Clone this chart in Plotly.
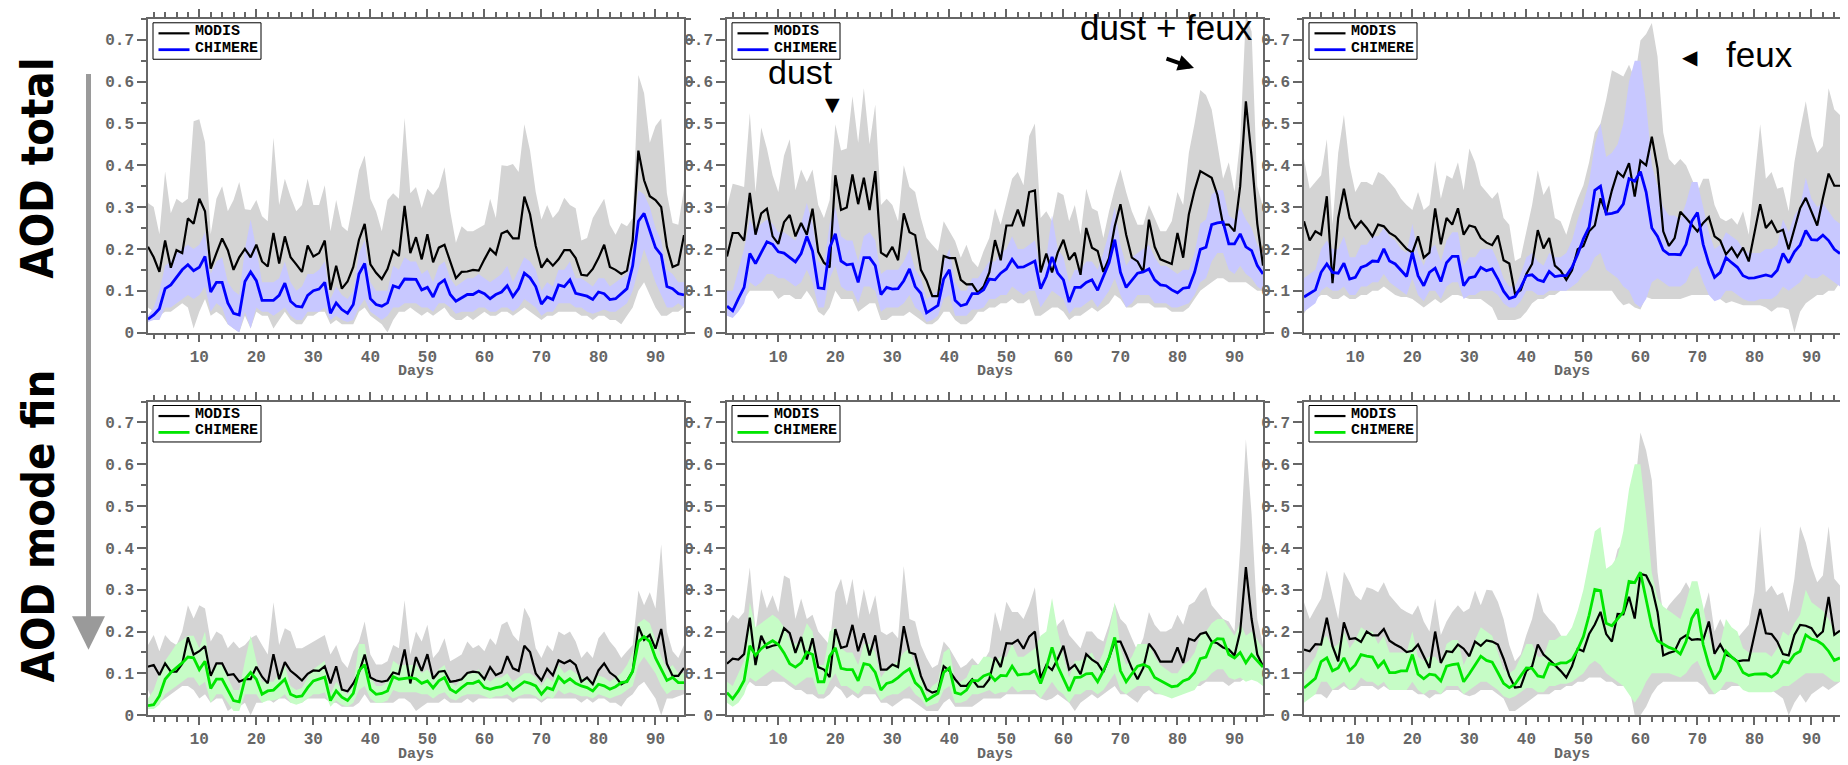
import plotly.graph_objects as go
from plotly.subplots import make_subplots

W, H = 1848, 765

days = list(range(1, 96))
x_tickvals = [10, 20, 30, 40, 50, 60, 70, 80, 90]
x_ticktext = ['10', '20', '30', '40', '50', '60', '70', '80', '90']
y_tickvals = [0, 0.1, 0.2, 0.3, 0.4, 0.5, 0.6, 0.7]
y_ticktext = ['0', '0.1', '0.2', '0.3', '0.4', '0.5', '0.6', '0.7']
legend_names = ['MODIS', 'CHIMERE']

# ---- top left : AOD total ----
p1_modis = [0.205,0.18,0.145,0.22,0.155,0.197,0.19,0.273,0.26,0.32,
            0.29,0.153,0.19,0.225,0.197,0.15,0.18,0.2,0.18,0.21,
            0.17,0.158,0.238,0.165,0.23,0.18,0.163,0.145,0.208,0.182,
            0.19,0.22,0.102,0.16,0.105,0.122,0.157,0.222,0.26,0.163,
            0.143,0.128,0.152,0.195,0.183,0.303,0.19,0.228,0.175,0.235,
            0.168,0.203,0.21,0.172,0.13,0.145,0.146,0.15,0.148,0.175,
            0.2,0.187,0.237,0.243,0.225,0.225,0.325,0.283,0.207,0.155,
            0.175,0.16,0.175,0.197,0.197,0.178,0.138,0.136,0.152,0.178,
            0.21,0.157,0.15,0.14,0.148,0.22,0.435,0.364,0.326,0.317,
            0.3,0.205,0.157,0.163,0.233]
p1_modis_hi = [0.31,0.30,0.235,0.385,0.285,0.32,0.31,0.32,0.505,0.51,
               0.455,0.235,0.32,0.35,0.29,0.317,0.36,0.295,0.293,0.317,
               0.278,0.266,0.466,0.305,0.368,0.325,0.29,0.305,0.368,0.305,
               0.305,0.352,0.242,0.317,0.254,0.242,0.313,0.388,0.423,0.32,
               0.29,0.242,0.317,0.333,0.32,0.513,0.333,0.348,0.298,0.344,
               0.329,0.348,0.395,0.29,0.215,0.254,0.242,0.242,0.25,0.258,
               0.32,0.274,0.40,0.398,0.403,0.384,0.498,0.435,0.336,0.27,
               0.305,0.274,0.29,0.322,0.305,0.297,0.22,0.226,0.274,0.297,
               0.32,0.258,0.234,0.262,0.254,0.274,0.616,0.572,0.454,0.494,
               0.512,0.333,0.262,0.258,0.344]
p1_modis_lo = [0.06,0.05,0.04,0.05,0.05,0.06,0.07,0.06,0.01,0.05,
               0.08,0.04,0.05,0.04,0.02,0.01,0.0,0.04,0.01,0.05,
               0.04,0.04,0.01,0.03,0.05,0.03,0.02,0.02,0.04,0.04,
               0.05,0.05,0.02,0.03,0.02,0.02,0.02,0.05,0.06,0.04,
               0.03,0.02,0.0,0.03,0.05,0.05,0.06,0.05,0.04,0.05,
               0.04,0.05,0.06,0.04,0.03,0.03,0.04,0.03,0.04,0.05,
               0.04,0.04,0.05,0.05,0.04,0.05,0.06,0.05,0.04,0.03,
               0.04,0.04,0.05,0.05,0.05,0.05,0.04,0.04,0.03,0.04,
               0.04,0.03,0.03,0.02,0.04,0.06,0.1,0.12,0.09,0.06,
               0.04,0.04,0.05,0.05,0.06]
p1_chim = [0.032,0.042,0.057,0.105,0.114,0.132,0.15,0.162,0.148,0.156,
           0.182,0.097,0.12,0.12,0.071,0.046,0.042,0.122,0.145,0.124,
           0.077,0.077,0.077,0.089,0.118,0.075,0.063,0.061,0.089,0.10,
           0.104,0.12,0.046,0.071,0.055,0.046,0.067,0.14,0.165,0.081,
           0.067,0.063,0.071,0.112,0.107,0.128,0.128,0.127,0.102,0.108,
           0.085,0.116,0.126,0.091,0.075,0.083,0.091,0.091,0.099,0.093,
           0.081,0.091,0.097,0.112,0.086,0.105,0.142,0.131,0.11,0.068,
           0.085,0.079,0.114,0.11,0.126,0.094,0.091,0.087,0.079,0.097,
           0.093,0.079,0.081,0.094,0.105,0.16,0.266,0.285,0.242,0.203,
           0.186,0.11,0.105,0.093,0.09]
p1_chim_hi = [0.04,0.06,0.1,0.16,0.17,0.19,0.2,0.21,0.2,0.21,
              0.24,0.14,0.17,0.18,0.12,0.1,0.09,0.2,0.27,0.2,
              0.12,0.12,0.12,0.13,0.17,0.12,0.1,0.11,0.14,0.14,
              0.15,0.17,0.08,0.11,0.09,0.08,0.1,0.19,0.22,0.12,
              0.1,0.1,0.1,0.16,0.15,0.18,0.17,0.17,0.14,0.15,
              0.12,0.16,0.17,0.13,0.11,0.12,0.13,0.13,0.14,0.13,
              0.12,0.13,0.14,0.16,0.12,0.15,0.18,0.17,0.15,0.1,
              0.12,0.11,0.15,0.15,0.17,0.13,0.13,0.12,0.11,0.13,
              0.13,0.11,0.12,0.13,0.14,0.22,0.34,0.33,0.3,0.25,
              0.22,0.15,0.14,0.12,0.12]
p1_chim_lo = [0.025,0.03,0.03,0.06,0.06,0.07,0.08,0.09,0.08,0.09,
              0.11,0.05,0.07,0.06,0.02,0.01,0.0,0.05,0.01,0.06,
              0.05,0.05,0.04,0.05,0.06,0.04,0.03,0.03,0.05,0.05,
              0.05,0.06,0.03,0.04,0.03,0.025,0.03,0.06,0.08,0.05,
              0.04,0.03,0.04,0.06,0.06,0.07,0.07,0.07,0.06,0.06,
              0.05,0.07,0.07,0.06,0.045,0.05,0.05,0.05,0.06,0.06,
              0.05,0.05,0.06,0.06,0.05,0.06,0.08,0.07,0.06,0.04,
              0.05,0.05,0.07,0.07,0.07,0.06,0.06,0.05,0.045,0.05,
              0.055,0.05,0.05,0.06,0.07,0.1,0.15,0.2,0.16,0.12,
              0.09,0.06,0.06,0.07,0.06]

# ---- top middle : AOD total ----
p2_modis = [0.182,0.238,0.238,0.22,0.334,0.234,0.285,0.296,0.23,0.212,
            0.264,0.281,0.23,0.262,0.234,0.296,0.193,0.167,0.156,0.376,
            0.293,0.299,0.378,0.307,0.37,0.293,0.386,0.191,0.182,0.205,
            0.173,0.285,0.24,0.233,0.15,0.124,0.087,0.087,0.183,0.178,
            0.178,0.126,0.115,0.116,0.095,0.11,0.144,0.221,0.173,0.256,
            0.256,0.294,0.254,0.336,0.34,0.144,0.189,0.144,0.191,0.222,
            0.174,0.191,0.138,0.25,0.203,0.195,0.145,0.178,0.254,0.307,
            0.234,0.179,0.17,0.145,0.27,0.205,0.175,0.169,0.164,0.238,
            0.179,0.283,0.34,0.386,0.378,0.37,0.329,0.258,0.258,0.242,
            0.35,0.553,0.42,0.26,0.16]
p2_modis_hi = [0.30,0.356,0.352,0.348,0.525,0.336,0.49,0.44,0.376,0.336,
               0.423,0.462,0.34,0.39,0.36,0.39,0.305,0.274,0.317,0.498,
               0.435,0.44,0.565,0.454,0.584,0.45,0.545,0.305,0.32,0.305,
               0.266,0.40,0.348,0.336,0.274,0.226,0.21,0.195,0.266,0.242,
               0.219,0.179,0.21,0.171,0.156,0.195,0.226,0.297,0.258,0.313,
               0.368,0.384,0.352,0.47,0.50,0.274,0.29,0.266,0.336,0.329,
               0.266,0.305,0.234,0.344,0.297,0.29,0.226,0.29,0.344,0.39,
               0.336,0.29,0.258,0.258,0.305,0.274,0.242,0.242,0.266,0.336,
               0.305,0.43,0.50,0.58,0.568,0.533,0.446,0.368,0.407,0.336,
               0.46,0.76,0.72,0.35,0.3]
p2_modis_lo = [0.1,0.08,0.07,0.08,0.1,0.1,0.1,0.1,0.1,0.08,
               0.09,0.09,0.08,0.08,0.1,0.08,0.05,0.04,0.06,0.1,
               0.08,0.08,0.08,0.05,0.06,0.07,0.07,0.03,0.03,0.04,
               0.04,0.04,0.05,0.04,0.03,0.02,0.02,0.03,0.05,0.05,
               0.03,0.02,0.02,0.03,0.05,0.05,0.06,0.06,0.07,0.07,
               0.08,0.07,0.07,0.08,0.04,0.04,0.05,0.06,0.06,0.05,
               0.03,0.04,0.04,0.05,0.06,0.05,0.06,0.07,0.09,0.08,
               0.06,0.06,0.07,0.07,0.07,0.06,0.06,0.06,0.05,0.05,
               0.05,0.06,0.08,0.1,0.11,0.12,0.13,0.13,0.12,0.12,
               0.12,0.12,0.11,0.1,0.1]
p2_chim = [0.063,0.052,0.081,0.108,0.189,0.165,0.191,0.217,0.211,0.193,
           0.19,0.179,0.169,0.189,0.23,0.195,0.107,0.105,0.203,0.236,
           0.171,0.162,0.164,0.12,0.179,0.179,0.16,0.091,0.108,0.104,
           0.105,0.124,0.152,0.11,0.094,0.047,0.055,0.065,0.128,0.15,
           0.077,0.064,0.068,0.093,0.093,0.102,0.128,0.126,0.142,0.152,
           0.175,0.156,0.157,0.164,0.171,0.105,0.134,0.181,0.142,0.126,
           0.073,0.108,0.108,0.12,0.126,0.101,0.132,0.167,0.222,0.144,
           0.108,0.124,0.142,0.145,0.152,0.126,0.114,0.112,0.102,0.095,
           0.106,0.108,0.144,0.199,0.204,0.258,0.262,0.264,0.212,0.212,
           0.236,0.205,0.196,0.16,0.14]
p2_chim_hi = [0.10,0.1,0.15,0.2,0.27,0.24,0.26,0.27,0.26,0.24,
              0.24,0.23,0.22,0.26,0.31,0.26,0.17,0.16,0.26,0.3,
              0.23,0.22,0.22,0.17,0.23,0.24,0.22,0.14,0.15,0.15,
              0.15,0.17,0.2,0.15,0.13,0.08,0.09,0.1,0.17,0.2,
              0.12,0.1,0.1,0.13,0.13,0.15,0.17,0.17,0.19,0.2,
              0.23,0.2,0.2,0.21,0.22,0.15,0.18,0.28,0.2,0.18,
              0.12,0.15,0.15,0.17,0.17,0.15,0.19,0.24,0.3,0.21,
              0.16,0.18,0.19,0.2,0.21,0.18,0.16,0.16,0.15,0.14,
              0.15,0.15,0.19,0.26,0.27,0.33,0.34,0.34,0.28,0.27,
              0.3,0.27,0.25,0.21,0.19]
p2_chim_lo = [0.04,0.035,0.05,0.07,0.12,0.11,0.12,0.14,0.14,0.13,
              0.13,0.12,0.11,0.12,0.15,0.12,0.06,0.06,0.13,0.16,
              0.11,0.1,0.1,0.07,0.11,0.11,0.1,0.05,0.06,0.06,
              0.06,0.07,0.09,0.06,0.05,0.025,0.03,0.04,0.08,0.09,
              0.04,0.04,0.04,0.055,0.055,0.06,0.08,0.08,0.09,0.09,
              0.11,0.1,0.09,0.1,0.1,0.06,0.08,0.1,0.09,0.08,
              0.045,0.06,0.06,0.07,0.08,0.06,0.08,0.1,0.13,0.09,
              0.06,0.07,0.09,0.09,0.09,0.07,0.07,0.07,0.06,0.06,
              0.065,0.07,0.09,0.12,0.13,0.17,0.19,0.19,0.15,0.14,
              0.16,0.14,0.13,0.11,0.1]

# ---- top right : AOD total ----
p3_modis = [0.266,0.22,0.242,0.234,0.326,0.118,0.274,0.344,0.274,0.25,
            0.266,0.25,0.23,0.258,0.254,0.238,0.23,0.215,0.2,0.191,
            0.23,0.179,0.191,0.297,0.211,0.274,0.258,0.297,0.234,0.256,
            0.252,0.226,0.215,0.209,0.232,0.173,0.165,0.093,0.101,0.14,
            0.164,0.245,0.201,0.226,0.16,0.148,0.126,0.149,0.199,0.207,
            0.242,0.256,0.321,0.285,0.34,0.384,0.372,0.405,0.325,0.411,
            0.4,0.468,0.392,0.242,0.207,0.226,0.289,0.274,0.258,0.242,
            0.262,0.276,0.23,0.22,0.187,0.203,0.181,0.203,0.17,0.242,
            0.307,0.25,0.266,0.24,0.246,0.199,0.25,0.297,0.322,0.289,
            0.256,0.321,0.38,0.351,0.351]
p3_modis_hi = [0.415,0.344,0.36,0.376,0.462,0.258,0.43,0.52,0.40,0.336,
               0.36,0.36,0.352,0.384,0.376,0.36,0.344,0.32,0.305,0.293,
               0.336,0.293,0.305,0.41,0.32,0.376,0.368,0.407,0.34,0.44,
               0.407,0.352,0.336,0.32,0.336,0.274,0.258,0.171,0.179,0.242,
               0.305,0.388,0.329,0.352,0.274,0.266,0.234,0.281,0.32,0.352,
               0.407,0.478,0.5,0.557,0.627,0.62,0.612,0.64,0.607,0.698,
               0.714,0.74,0.66,0.478,0.415,0.40,0.415,0.4,0.368,0.336,
               0.368,0.368,0.305,0.274,0.266,0.274,0.258,0.29,0.234,0.368,
               0.498,0.368,0.384,0.344,0.348,0.29,0.407,0.485,0.553,0.47,
               0.43,0.446,0.584,0.533,0.52]
p3_modis_lo = [0.045,0.07,0.08,0.09,0.09,0.08,0.08,0.09,0.08,0.08,
               0.09,0.09,0.1,0.1,0.11,0.1,0.09,0.085,0.085,0.08,
               0.07,0.06,0.07,0.08,0.07,0.08,0.09,0.09,0.085,0.08,
               0.08,0.08,0.07,0.06,0.03,0.03,0.03,0.03,0.035,0.05,
               0.07,0.08,0.08,0.09,0.09,0.1,0.1,0.1,0.1,0.1,
               0.1,0.1,0.1,0.1,0.1,0.08,0.065,0.07,0.06,0.055,
               0.085,0.08,0.08,0.08,0.08,0.08,0.08,0.085,0.09,0.09,
               0.09,0.09,0.09,0.08,0.07,0.075,0.07,0.065,0.065,0.065,
               0.065,0.06,0.05,0.06,0.06,0.055,0.0,0.05,0.07,0.08,
               0.09,0.09,0.1,0.1,0.12]
p3_chim = [0.085,0.094,0.102,0.144,0.164,0.144,0.142,0.166,0.128,0.132,
           0.156,0.161,0.171,0.17,0.2,0.171,0.164,0.149,0.134,0.191,
           0.136,0.112,0.144,0.154,0.122,0.167,0.182,0.182,0.112,0.131,
           0.134,0.156,0.148,0.152,0.128,0.099,0.081,0.086,0.108,0.136,
           0.138,0.126,0.122,0.146,0.134,0.136,0.136,0.156,0.187,0.224,
           0.252,0.34,0.35,0.283,0.285,0.289,0.307,0.368,0.362,0.385,
           0.336,0.25,0.23,0.197,0.187,0.187,0.186,0.211,0.266,0.287,
           0.211,0.165,0.132,0.144,0.179,0.167,0.156,0.136,0.13,0.131,
           0.134,0.138,0.134,0.149,0.189,0.167,0.193,0.209,0.244,0.222,
           0.221,0.233,0.22,0.199,0.189]
p3_chim_hi = [0.13,0.14,0.15,0.2,0.22,0.2,0.2,0.23,0.18,0.18,
              0.21,0.21,0.23,0.23,0.25,0.23,0.22,0.2,0.19,0.26,
              0.19,0.16,0.2,0.21,0.17,0.22,0.24,0.24,0.16,0.18,
              0.18,0.2,0.2,0.2,0.17,0.13,0.11,0.11,0.14,0.18,
              0.19,0.17,0.16,0.19,0.18,0.18,0.19,0.22,0.27,0.31,
              0.36,0.45,0.5,0.42,0.43,0.45,0.5,0.6,0.65,0.65,
              0.55,0.4,0.35,0.3,0.28,0.28,0.27,0.31,0.36,0.36,
              0.3,0.24,0.2,0.21,0.24,0.23,0.22,0.2,0.19,0.19,
              0.19,0.2,0.2,0.21,0.27,0.24,0.28,0.3,0.37,0.32,
              0.3,0.31,0.29,0.27,0.26]
p3_chim_lo = [0.05,0.06,0.07,0.1,0.11,0.1,0.1,0.11,0.09,0.09,
              0.11,0.11,0.12,0.12,0.14,0.12,0.11,0.1,0.09,0.13,
              0.09,0.075,0.1,0.1,0.08,0.11,0.12,0.12,0.08,0.09,
              0.09,0.1,0.1,0.1,0.09,0.07,0.06,0.06,0.075,0.1,
              0.1,0.09,0.09,0.1,0.1,0.1,0.1,0.11,0.12,0.14,
              0.15,0.18,0.19,0.15,0.14,0.13,0.11,0.1,0.07,0.06,
              0.08,0.12,0.13,0.12,0.11,0.11,0.11,0.12,0.15,0.16,
              0.12,0.09,0.075,0.08,0.1,0.1,0.09,0.08,0.075,0.075,
              0.08,0.08,0.08,0.09,0.11,0.1,0.11,0.12,0.14,0.13,
              0.13,0.14,0.13,0.12,0.11]

# ---- bottom left : AOD fine mode ----
p4_modis = [0.116,0.12,0.096,0.124,0.104,0.104,0.123,0.186,0.145,0.153,
            0.165,0.094,0.124,0.124,0.096,0.098,0.08,0.086,0.086,0.116,
            0.092,0.076,0.146,0.086,0.127,0.106,0.095,0.083,0.099,0.107,
            0.106,0.117,0.076,0.117,0.061,0.057,0.076,0.102,0.145,0.09,
            0.083,0.08,0.083,0.102,0.098,0.157,0.076,0.139,0.106,0.146,
            0.087,0.104,0.106,0.08,0.082,0.086,0.101,0.104,0.102,0.086,
            0.115,0.096,0.102,0.141,0.112,0.106,0.166,0.151,0.1,0.083,
            0.111,0.095,0.131,0.124,0.131,0.12,0.08,0.09,0.074,0.107,
            0.124,0.102,0.092,0.074,0.082,0.105,0.212,0.18,0.192,0.159,
            0.206,0.123,0.094,0.094,0.113]
p4_modis_hi = [0.168,0.192,0.153,0.192,0.176,0.168,0.2,0.263,0.231,0.263,
               0.255,0.176,0.2,0.192,0.16,0.176,0.16,0.168,0.184,0.192,
               0.168,0.145,0.27,0.168,0.208,0.2,0.16,0.16,0.168,0.176,
               0.184,0.192,0.145,0.168,0.129,0.113,0.153,0.176,0.224,0.145,
               0.121,0.121,0.129,0.168,0.16,0.275,0.145,0.2,0.176,0.216,
               0.137,0.153,0.184,0.129,0.137,0.145,0.176,0.16,0.168,0.153,
               0.184,0.168,0.216,0.224,0.192,0.176,0.257,0.231,0.16,0.137,
               0.168,0.153,0.2,0.192,0.2,0.176,0.137,0.153,0.137,0.184,
               0.2,0.176,0.16,0.137,0.153,0.168,0.298,0.263,0.294,0.255,
               0.409,0.2,0.153,0.137,0.168]
p4_modis_lo = [0.06,0.03,0.03,0.04,0.05,0.06,0.07,0.07,0.06,0.04,
               0.05,0.03,0.04,0.04,0.01,0.02,0.02,0.03,0.0,0.03,
               0.03,0.04,0.03,0.04,0.04,0.03,0.03,0.03,0.04,0.04,
               0.04,0.04,0.03,0.03,0.02,0.02,0.02,0.03,0.05,0.03,
               0.03,0.03,0.03,0.03,0.04,0.04,0.03,0.01,0.02,0.03,
               0.03,0.03,0.04,0.03,0.03,0.03,0.04,0.03,0.04,0.04,
               0.04,0.04,0.04,0.04,0.03,0.04,0.04,0.04,0.04,0.03,
               0.04,0.04,0.04,0.04,0.04,0.04,0.03,0.04,0.03,0.04,
               0.04,0.03,0.03,0.02,0.04,0.05,0.07,0.08,0.06,0.04,
               0.0,0.04,0.04,0.045,0.05]
p4_chim = [0.023,0.025,0.046,0.086,0.102,0.113,0.125,0.139,0.137,0.109,
           0.129,0.064,0.086,0.086,0.06,0.035,0.032,0.086,0.102,0.086,
           0.05,0.058,0.06,0.072,0.086,0.05,0.044,0.046,0.066,0.082,
           0.086,0.091,0.035,0.058,0.043,0.035,0.052,0.106,0.121,0.062,
           0.05,0.052,0.058,0.092,0.086,0.088,0.09,0.087,0.076,0.082,
           0.065,0.082,0.09,0.062,0.054,0.066,0.076,0.076,0.082,0.066,
           0.062,0.066,0.068,0.076,0.06,0.07,0.08,0.076,0.07,0.05,
           0.066,0.061,0.092,0.078,0.087,0.076,0.07,0.066,0.058,0.074,
           0.07,0.062,0.068,0.078,0.08,0.105,0.176,0.188,0.176,0.137,
           0.109,0.083,0.09,0.078,0.078]
p4_chim_hi = [0.04,0.06,0.1,0.13,0.15,0.17,0.18,0.19,0.19,0.16,
              0.2,0.1,0.12,0.12,0.09,0.06,0.06,0.13,0.19,0.13,
              0.08,0.08,0.08,0.1,0.12,0.07,0.06,0.065,0.09,0.11,
              0.12,0.13,0.05,0.08,0.06,0.05,0.07,0.17,0.17,0.09,
              0.07,0.07,0.08,0.13,0.12,0.12,0.12,0.12,0.1,0.11,
              0.09,0.11,0.12,0.08,0.07,0.09,0.1,0.1,0.11,0.09,
              0.08,0.09,0.09,0.1,0.08,0.09,0.1,0.1,0.09,0.07,
              0.09,0.08,0.12,0.1,0.11,0.1,0.09,0.085,0.08,0.095,
              0.09,0.08,0.09,0.1,0.12,0.15,0.22,0.23,0.22,0.18,
              0.14,0.11,0.12,0.1,0.1]
p4_chim_lo = [0.015,0.015,0.025,0.05,0.06,0.07,0.08,0.09,0.09,0.07,
              0.08,0.03,0.05,0.05,0.03,0.01,0.01,0.05,0.05,0.05,
              0.03,0.035,0.035,0.04,0.05,0.03,0.025,0.03,0.04,0.05,
              0.05,0.055,0.02,0.035,0.025,0.02,0.03,0.06,0.07,0.04,
              0.03,0.03,0.035,0.06,0.055,0.055,0.055,0.055,0.05,0.05,
              0.04,0.05,0.055,0.04,0.035,0.045,0.05,0.05,0.05,0.045,
              0.04,0.045,0.045,0.05,0.04,0.045,0.05,0.05,0.045,0.035,
              0.045,0.04,0.06,0.05,0.055,0.05,0.045,0.045,0.04,0.05,
              0.045,0.04,0.045,0.05,0.06,0.07,0.12,0.14,0.12,0.1,
              0.07,0.05,0.06,0.06,0.06]

# ---- bottom middle : AOD fine mode ----
p5_modis = [0.123,0.135,0.133,0.146,0.233,0.12,0.19,0.161,0.166,0.169,
            0.208,0.196,0.149,0.187,0.133,0.184,0.115,0.109,0.091,0.206,
            0.161,0.165,0.216,0.153,0.196,0.143,0.191,0.109,0.109,0.121,
            0.115,0.213,0.15,0.146,0.094,0.062,0.054,0.058,0.117,0.106,
            0.086,0.07,0.07,0.086,0.068,0.068,0.086,0.139,0.115,0.172,
            0.171,0.18,0.159,0.188,0.2,0.088,0.12,0.108,0.135,0.166,
            0.109,0.12,0.098,0.146,0.133,0.124,0.103,0.137,0.176,0.176,
            0.145,0.112,0.086,0.113,0.171,0.153,0.128,0.128,0.128,0.162,
            0.125,0.183,0.178,0.194,0.198,0.176,0.172,0.162,0.157,0.143,
            0.2,0.354,0.23,0.145,0.117]
p5_modis_hi = [0.22,0.24,0.23,0.247,0.354,0.2,0.302,0.255,0.287,0.247,
               0.334,0.326,0.23,0.279,0.23,0.24,0.2,0.184,0.168,0.294,
               0.326,0.263,0.326,0.23,0.302,0.24,0.287,0.2,0.192,0.2,
               0.184,0.357,0.23,0.224,0.168,0.137,0.113,0.121,0.176,0.16,
               0.137,0.113,0.121,0.137,0.121,0.129,0.153,0.247,0.2,0.271,
               0.247,0.247,0.23,0.263,0.306,0.168,0.2,0.184,0.216,0.23,
               0.192,0.176,0.16,0.2,0.2,0.184,0.176,0.216,0.267,0.23,
               0.216,0.184,0.153,0.184,0.247,0.216,0.2,0.2,0.208,0.24,
               0.216,0.263,0.271,0.294,0.306,0.263,0.247,0.23,0.224,0.2,
               0.4,0.66,0.48,0.23,0.168]
p5_modis_lo = [0.06,0.04,0.05,0.06,0.08,0.07,0.07,0.07,0.08,0.08,
               0.08,0.07,0.06,0.06,0.05,0.05,0.04,0.04,0.05,0.07,
               0.06,0.04,0.05,0.04,0.05,0.05,0.05,0.03,0.03,0.02,
               0.03,0.04,0.04,0.03,0.02,0.01,0.01,0.01,0.03,0.04,
               0.02,0.02,0.02,0.02,0.03,0.04,0.04,0.04,0.04,0.05,
               0.05,0.05,0.05,0.05,0.05,0.04,0.035,0.04,0.05,0.04,
               0.03,0.01,0.03,0.04,0.05,0.04,0.05,0.06,0.07,0.05,
               0.05,0.04,0.03,0.05,0.06,0.05,0.05,0.05,0.05,0.06,
               0.06,0.06,0.07,0.07,0.08,0.08,0.08,0.08,0.07,0.08,
               0.08,0.09,0.09,0.09,0.1]
p5_chim = [0.054,0.039,0.058,0.083,0.166,0.143,0.159,0.17,0.178,0.169,
           0.149,0.123,0.115,0.125,0.151,0.145,0.08,0.08,0.141,0.161,
           0.112,0.109,0.109,0.082,0.123,0.12,0.102,0.06,0.076,0.08,
           0.09,0.102,0.111,0.078,0.065,0.035,0.044,0.052,0.102,0.113,
           0.054,0.05,0.06,0.083,0.082,0.094,0.099,0.083,0.095,0.094,
           0.117,0.096,0.098,0.099,0.107,0.076,0.113,0.162,0.117,0.086,
           0.058,0.09,0.091,0.099,0.1,0.08,0.106,0.137,0.186,0.106,
           0.08,0.099,0.117,0.121,0.115,0.09,0.083,0.074,0.068,0.07,
           0.082,0.087,0.102,0.135,0.139,0.172,0.183,0.182,0.145,0.137,
           0.15,0.125,0.145,0.13,0.115]
p5_chim_hi = [0.08,0.07,0.1,0.13,0.27,0.21,0.22,0.23,0.24,0.23,
              0.21,0.18,0.17,0.18,0.22,0.2,0.12,0.12,0.2,0.21,
              0.16,0.15,0.15,0.12,0.17,0.17,0.15,0.09,0.11,0.12,
              0.13,0.15,0.16,0.12,0.1,0.05,0.07,0.08,0.15,0.16,
              0.08,0.08,0.09,0.12,0.12,0.14,0.14,0.13,0.14,0.14,
              0.17,0.14,0.14,0.15,0.16,0.19,0.2,0.28,0.2,0.14,
              0.09,0.13,0.13,0.14,0.15,0.12,0.15,0.2,0.27,0.16,
              0.12,0.14,0.17,0.17,0.17,0.14,0.12,0.11,0.1,0.1,
              0.12,0.13,0.15,0.19,0.2,0.22,0.23,0.23,0.21,0.19,
              0.22,0.19,0.2,0.18,0.16]
p5_chim_lo = [0.03,0.02,0.03,0.05,0.09,0.08,0.09,0.1,0.11,0.1,
              0.09,0.08,0.07,0.08,0.09,0.09,0.05,0.05,0.08,0.1,
              0.07,0.07,0.06,0.05,0.07,0.07,0.06,0.035,0.045,0.05,
              0.05,0.06,0.07,0.05,0.04,0.02,0.025,0.03,0.06,0.07,
              0.03,0.03,0.035,0.05,0.05,0.055,0.06,0.05,0.055,0.055,
              0.07,0.055,0.06,0.06,0.06,0.04,0.06,0.08,0.06,0.05,
              0.03,0.05,0.05,0.06,0.06,0.05,0.06,0.08,0.1,0.06,
              0.05,0.06,0.07,0.07,0.07,0.055,0.05,0.045,0.04,0.045,
              0.05,0.055,0.06,0.08,0.085,0.1,0.11,0.11,0.09,0.085,
              0.09,0.08,0.085,0.08,0.07]

# ---- bottom right : AOD fine mode ----
p6_modis = [0.157,0.153,0.17,0.169,0.233,0.165,0.129,0.222,0.182,0.184,
            0.175,0.2,0.191,0.191,0.206,0.178,0.169,0.162,0.151,0.154,
            0.169,0.141,0.113,0.2,0.125,0.153,0.151,0.169,0.159,0.141,
            0.176,0.166,0.179,0.176,0.169,0.135,0.094,0.066,0.068,0.106,
            0.117,0.169,0.145,0.133,0.12,0.106,0.09,0.117,0.159,0.153,
            0.194,0.217,0.247,0.194,0.176,0.242,0.241,0.283,0.231,0.338,
            0.334,0.306,0.247,0.143,0.149,0.153,0.182,0.191,0.18,0.182,
            0.18,0.224,0.147,0.169,0.145,0.139,0.129,0.131,0.131,0.192,
            0.254,0.196,0.194,0.176,0.146,0.143,0.192,0.216,0.214,0.208,
            0.188,0.2,0.283,0.192,0.202]
p6_modis_hi = [0.27,0.23,0.255,0.279,0.346,0.287,0.23,0.343,0.318,0.287,
               0.275,0.306,0.302,0.294,0.318,0.287,0.271,0.255,0.247,0.24,
               0.263,0.224,0.2,0.279,0.192,0.224,0.247,0.263,0.247,0.255,
               0.298,0.263,0.3,0.298,0.271,0.23,0.168,0.129,0.145,0.192,
               0.23,0.294,0.247,0.23,0.216,0.192,0.168,0.176,0.2,0.255,
               0.31,0.357,0.397,0.334,0.342,0.397,0.413,0.46,0.539,0.676,
               0.633,0.562,0.342,0.24,0.263,0.279,0.294,0.318,0.294,0.255,
               0.247,0.294,0.2,0.23,0.2,0.192,0.184,0.2,0.216,0.294,
               0.452,0.294,0.31,0.287,0.294,0.247,0.326,0.452,0.413,0.357,
               0.318,0.334,0.452,0.326,0.31]
p6_modis_lo = [0.06,0.05,0.05,0.05,0.04,0.06,0.06,0.07,0.06,0.06,
               0.07,0.07,0.07,0.06,0.07,0.06,0.06,0.06,0.06,0.06,
               0.05,0.05,0.04,0.05,0.05,0.06,0.06,0.06,0.05,0.045,
               0.05,0.06,0.06,0.06,0.05,0.04,0.01,0.01,0.02,0.03,
               0.04,0.05,0.05,0.05,0.06,0.06,0.07,0.07,0.08,0.08,
               0.09,0.09,0.09,0.08,0.08,0.07,0.07,0.07,0.0,0.0,
               0.02,0.05,0.07,0.08,0.08,0.08,0.08,0.08,0.08,0.08,
               0.07,0.05,0.05,0.06,0.06,0.07,0.07,0.07,0.065,0.065,
               0.06,0.06,0.06,0.05,0.04,0.0,0.03,0.05,0.03,0.05,
               0.06,0.07,0.06,0.07,0.08]
p6_chim = [0.065,0.076,0.088,0.128,0.137,0.106,0.113,0.137,0.107,0.12,
           0.145,0.141,0.139,0.115,0.129,0.102,0.102,0.106,0.106,0.145,
           0.098,0.087,0.098,0.096,0.082,0.117,0.121,0.123,0.08,0.099,
           0.12,0.141,0.131,0.127,0.102,0.076,0.066,0.074,0.094,0.113,
           0.112,0.094,0.091,0.124,0.12,0.125,0.125,0.133,0.157,0.188,
           0.239,0.301,0.298,0.22,0.214,0.231,0.247,0.32,0.317,0.342,
           0.279,0.212,0.178,0.169,0.162,0.157,0.146,0.176,0.231,0.254,
           0.169,0.12,0.086,0.106,0.153,0.139,0.128,0.102,0.095,0.098,
           0.098,0.099,0.091,0.102,0.129,0.125,0.145,0.153,0.192,0.182,
           0.178,0.169,0.153,0.131,0.137]
p6_chim_hi = [0.1,0.12,0.14,0.18,0.19,0.16,0.17,0.2,0.16,0.18,
              0.21,0.2,0.2,0.17,0.19,0.15,0.15,0.15,0.15,0.2,
              0.14,0.13,0.14,0.14,0.12,0.17,0.18,0.18,0.12,0.15,
              0.18,0.21,0.2,0.19,0.15,0.11,0.1,0.11,0.14,0.17,
              0.17,0.14,0.14,0.18,0.18,0.19,0.19,0.21,0.25,0.3,
              0.37,0.44,0.45,0.35,0.36,0.38,0.44,0.54,0.6,0.6,
              0.48,0.34,0.28,0.26,0.25,0.24,0.23,0.27,0.32,0.32,
              0.26,0.19,0.14,0.17,0.23,0.21,0.2,0.16,0.15,0.15,
              0.15,0.15,0.14,0.16,0.2,0.19,0.22,0.24,0.3,0.27,
              0.26,0.25,0.23,0.2,0.2]
p6_chim_lo = [0.03,0.04,0.05,0.08,0.08,0.06,0.07,0.08,0.06,0.07,
              0.09,0.08,0.08,0.07,0.08,0.06,0.06,0.06,0.06,0.08,
              0.06,0.05,0.06,0.06,0.05,0.07,0.07,0.07,0.05,0.06,
              0.07,0.08,0.08,0.07,0.06,0.045,0.04,0.045,0.055,0.065,
              0.065,0.055,0.055,0.07,0.07,0.075,0.075,0.08,0.09,0.1,
              0.12,0.13,0.12,0.1,0.09,0.08,0.07,0.05,0.03,0.05,
              0.08,0.1,0.1,0.1,0.1,0.095,0.09,0.1,0.12,0.13,
              0.1,0.07,0.05,0.06,0.08,0.08,0.075,0.06,0.055,0.055,
              0.055,0.055,0.055,0.06,0.07,0.07,0.08,0.09,0.1,0.1,
              0.1,0.1,0.09,0.08,0.08]

GREY_BAND = '#d4d4d4'
AXIS_GREY = '#666666'
BLUE, BLUE_BAND = '#0000ff', '#c8c8ff'
GREEN, GREEN_BAND = '#00e600', '#c6fcc6'
MONO = 'Liberation Mono, Courier New, monospace'


def px(x):
    return x / W


def py(y):
    return 1 - y / H


# pixel boxes of the six panels (left, right) and (top, bottom)
cols_px = [(140, 676), (719, 1255), (1296, 1832)]
rows_px = [(11, 329.3), (399.3, 717.5)]

panels = [
    (1, 1, p1_modis, p1_modis_lo, p1_modis_hi, p1_chim, p1_chim_lo, p1_chim_hi, BLUE, BLUE_BAND),
    (1, 2, p2_modis, p2_modis_lo, p2_modis_hi, p2_chim, p2_chim_lo, p2_chim_hi, BLUE, BLUE_BAND),
    (1, 3, p3_modis, p3_modis_lo, p3_modis_hi, p3_chim, p3_chim_lo, p3_chim_hi, BLUE, BLUE_BAND),
    (2, 1, p4_modis, p4_modis_lo, p4_modis_hi, p4_chim, p4_chim_lo, p4_chim_hi, GREEN, GREEN_BAND),
    (2, 2, p5_modis, p5_modis_lo, p5_modis_hi, p5_chim, p5_chim_lo, p5_chim_hi, GREEN, GREEN_BAND),
    (2, 3, p6_modis, p6_modis_lo, p6_modis_hi, p6_chim, p6_chim_lo, p6_chim_hi, GREEN, GREEN_BAND),
]

fig = make_subplots(rows=2, cols=3)

tick_font = dict(family=MONO, size=16, color=AXIS_GREY, weight='bold')


def band(lo, hi, color):
    return go.Scatter(x=days + days[::-1], y=hi + lo[::-1], fill='toself',
                      fillcolor=color, line=dict(width=0), mode='lines',
                      hoverinfo='skip', showlegend=False)


def note(text, x, y, font, xanchor='center'):
    # text placed by its pixel position in the picture
    return dict(text=text, x=px(x), y=py(y), xref='paper', yref='paper',
                xanchor=xanchor, yanchor='middle', showarrow=False, font=font)


annotations = []
shapes = []
for i, (r, c, m, m_lo, m_hi, ch, ch_lo, ch_hi, lc, bc) in enumerate(panels):
    fig.add_trace(band(m_lo, m_hi, GREY_BAND), row=r, col=c)
    fig.add_trace(band(ch_lo, ch_hi, bc), row=r, col=c)
    fig.add_trace(go.Scatter(x=days, y=m, mode='lines', name=legend_names[0],
                             line=dict(color='black', width=2.2), showlegend=False),
                  row=r, col=c)
    fig.add_trace(go.Scatter(x=days, y=ch, mode='lines', name=legend_names[1],
                             line=dict(color=lc, width=2.8), showlegend=False),
                  row=r, col=c)

    x0, x1 = cols_px[c - 1]
    y0, y1 = rows_px[r - 1]
    fig.update_xaxes(domain=[px(x0), px(x1)], range=[1, 95],
                     tickvals=x_tickvals, ticktext=x_ticktext,
                     ticks='outside', ticklen=8, tickwidth=1.5, tickcolor=AXIS_GREY,
                     showline=True, linecolor=AXIS_GREY, linewidth=1.5, mirror='ticks',
                     showgrid=False, zeroline=False, tickfont=tick_font,
                     minor=dict(dtick=2, tick0=0, ticks='outside', ticklen=5,
                                tickwidth=1.5, tickcolor=AXIS_GREY, showgrid=False),
                     row=r, col=c)
    fig.update_yaxes(domain=[py(y1), py(y0)], range=[0, 0.75],
                     tickvals=y_tickvals, ticktext=y_ticktext,
                     ticks='outside', ticklen=9, tickwidth=1.5, tickcolor=AXIS_GREY,
                     showline=True, linecolor=AXIS_GREY, linewidth=1.5, mirror='ticks',
                     showgrid=False, zeroline=False, tickfont=tick_font,
                     minor=dict(dtick=0.05, tick0=0, ticks='outside', ticklen=5,
                                tickwidth=1.5, tickcolor=AXIS_GREY, showgrid=False),
                     row=r, col=c)

    # small boxed legend in the upper left corner of every panel
    shapes.append(dict(type='rect', xref='paper', yref='paper', layer='above',
                       x0=px(x0 + 5), x1=px(x0 + 113), y0=py(y0 + 4), y1=py(y0 + 41),
                       fillcolor='white', line=dict(color='black', width=1)))
    for k, (name, col, wd) in enumerate([(legend_names[0], 'black', 2.2),
                                         (legend_names[1], lc, 2.8)]):
        ly = y0 + 14.7 + 16.6 * k
        shapes.append(dict(type='line', xref='paper', yref='paper', layer='above',
                           x0=px(x0 + 10.5), x1=px(x0 + 41.5), y0=py(ly), y1=py(ly),
                           line=dict(color=col, width=wd)))
        annotations.append(note(name, x0 + 44.5, ly - 1.5,
                                dict(family=MONO, size=15, color='black', weight='bold'),
                                xanchor='left'))

    annotations.append(note('Days', (x0 + x1) / 2, y1 + 40,
                            dict(family=MONO, size=15, color=AXIS_GREY, weight='bold')))

label_font = dict(family='Liberation Sans Narrow, Arial Narrow, DejaVu Sans Condensed, sans-serif',
                  size=45, color='black', weight='bold')
lab1 = note('AOD total', 30, 163, label_font)
lab2 = note('AOD mode fin', 30, 526, label_font)
lab1['textangle'] = -90
lab2['textangle'] = -90
annotations += [lab1, lab2]

note_font = dict(family='Liberation Sans, Arial, sans-serif', size=35, color='black')
annotations += [
    note('dust', 792, 65, dict(family='Liberation Sans, Arial, sans-serif', size=34, color='black')),
    note('dust + feux', 1158, 20, note_font),
    note('feux', 1751, 47, note_font),
    note('\u25bc', 824, 97, dict(family='DejaVu Sans', size=19, color='black')),
    note('\u25c0', 1682, 50, dict(family='DejaVu Sans', size=20, color='black')),
]

# short arrow pointing down-right under "dust + feux"
annotations.append(dict(text='', x=px(1186), y=py(61), ax=-29, ay=-10,
                        xref='paper', yref='paper', showarrow=True,
                        arrowhead=2, arrowsize=0.8, arrowwidth=4, arrowcolor='black'))

# grey arrow on the left
shapes += [
    dict(type='line', xref='paper', yref='paper', x0=px(80.5), x1=px(80.5),
         y0=py(67), y1=py(620), line=dict(color='#9a9a9a', width=5)),
    dict(type='path', xref='paper', yref='paper', fillcolor='#9a9a9a', line=dict(width=0),
         path='M %f,%f L %f,%f L %f,%f Z' % (px(64), py(617), px(97), py(617), px(80.5), py(651))),
]

fig.update_layout(
    width=W, height=H,
    margin=dict(l=0, r=0, t=0, b=0),
    paper_bgcolor='white', plot_bgcolor='white',
    annotations=annotations, shapes=shapes,
    hovermode=False, showlegend=False,
)

fig.write_html("out.html")
